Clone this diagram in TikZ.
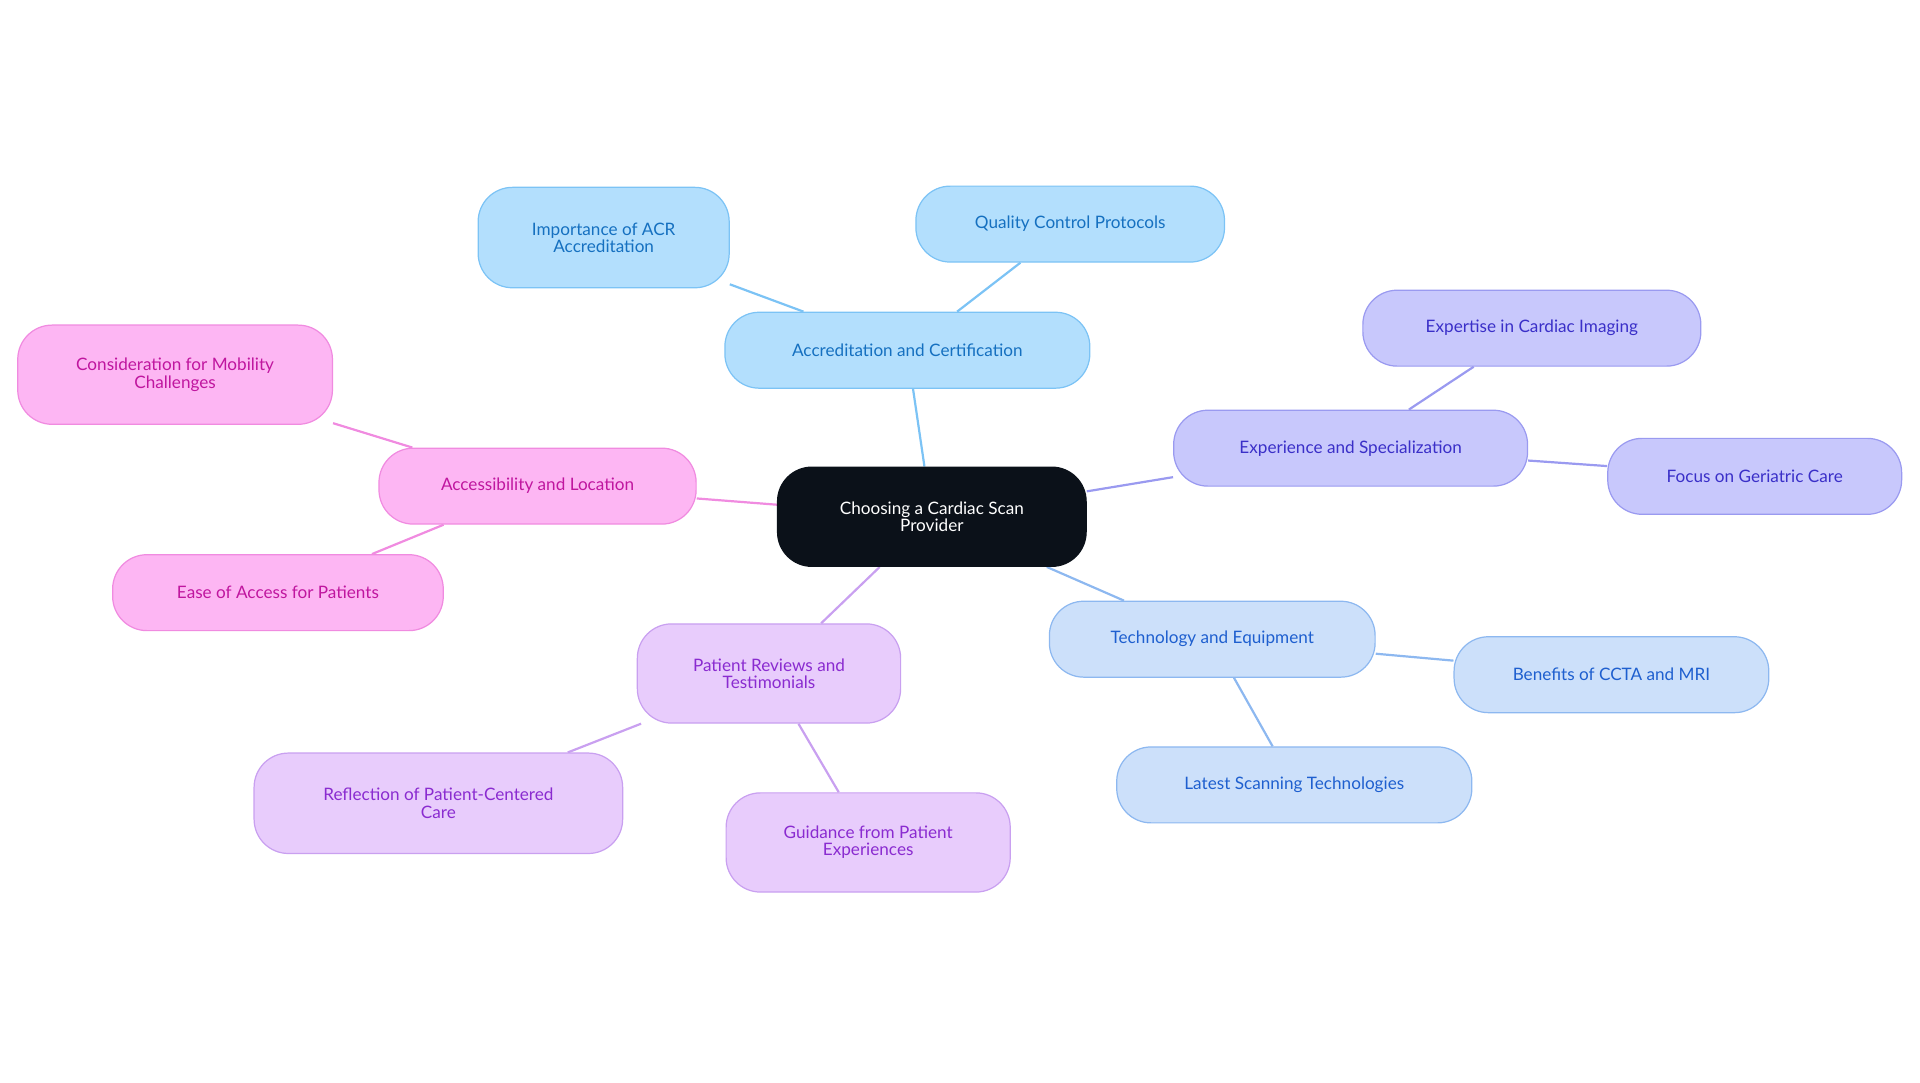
\documentclass[tikz,border=0pt]{standalone}
\usepackage{fontspec}
\setmainfont{Lato}
\usetikzlibrary{backgrounds}
\definecolor{bF}{HTML}{B3DFFD}\definecolor{bD}{HTML}{7CC3F5}\definecolor{bT}{HTML}{1570C0}
\definecolor{pF}{HTML}{C8C8FC}\definecolor{pD}{HTML}{9A9AF0}\definecolor{pT}{HTML}{3A2FC8}
\definecolor{lF}{HTML}{CCE0FA}\definecolor{lD}{HTML}{8DB8F0}\definecolor{lT}{HTML}{1E5FCF}
\definecolor{vF}{HTML}{E8CCFC}\definecolor{vD}{HTML}{C9A0F0}\definecolor{vT}{HTML}{8A2BD0}
\definecolor{kF}{HTML}{FDB6F3}\definecolor{kD}{HTML}{F08BE0}\definecolor{kT}{HTML}{C0169F}
\definecolor{cF}{HTML}{0B1119}
\tikzset{
 box/.style={rounded corners=28pt,line width=1pt,align=center,inner sep=0pt,font=\fontsize{14}{14}\selectfont},
 bb/.style={box,fill=bF,draw=bD,text=bT},
 pb/.style={box,fill=pF,draw=pD,text=pT},
 lb/.style={box,fill=lF,draw=lD,text=lT},
 vb/.style={box,fill=vF,draw=vD,text=vT},
 kb/.style={box,fill=kF,draw=kD,text=kT},
 sz/.style n args={2}{minimum width=#1pt,minimum height=#2pt},
 ln/.style={line width=1.8pt}
}
\begin{document}
\begin{tikzpicture}[x=1pt,y=-1pt]
\useasboundingbox (0,0) rectangle (1568,884);
\node[box,fill=cF,draw=cF,text=white,sz={252}{81}] (c) at (761,422) {Choosing a Cardiac Scan\\Provider};
\node[bb,sz={298}{62}] (a) at (741,286) {Accreditation and Certification};
\node[bb,sz={205}{82}] (a1) at (493,194) {Importance of ACR\\Accreditation};
\node[bb,sz={252}{62}] (a2) at (874,183) {Quality Control Protocols};
\node[pb,sz={289}{62}] (e) at (1103,366) {Experience and Specialization};
\node[pb,sz={276}{62}] (e1) at (1251,268) {Expertise in Cardiac Imaging};
\node[pb,sz={240}{62}] (e2) at (1433,389) {Focus on Geriatric Care};
\node[lb,sz={266}{62}] (t) at (990,522) {Technology and Equipment};
\node[lb,sz={257}{62}] (t1) at (1316,551) {Benefits of CCTA and MRI};
\node[lb,sz={290}{62}] (t2) at (1057,641) {Latest Scanning Technologies};
\node[vb,sz={215}{81}] (p) at (628,550) {Patient Reviews and\\Testimonials};
\node[vb,sz={301}{82}] (p1) at (358,656) {Reflection of Patient-Centered\\Care};
\node[vb,sz={232}{81}] (p2) at (709,688) {Guidance from Patient\\Experiences};
\node[kb,sz={259}{62}] (k) at (439,397) {Accessibility and Location};
\node[kb,sz={257}{81}] (k1) at (143,306) {Consideration for Mobility\\Challenges};
\node[kb,sz={270}{62}] (k2) at (227,484) {Ease of Access for Patients};
\begin{scope}[on background layer]
\draw[ln,bD] (c)--(a) (a)--(a1) (a)--(a2);
\draw[ln,pD] (c)--(e) (e)--(e1) (e)--(e2);
\draw[ln,lD] (c)--(t) (t)--(t1) (t)--(t2);
\draw[ln,vD] (c)--(p) (p)--(p1) (p)--(p2);
\draw[ln,kD] (c)--(k) (k)--(k1) (k)--(k2);
\end{scope}
\end{tikzpicture}
\end{document}
